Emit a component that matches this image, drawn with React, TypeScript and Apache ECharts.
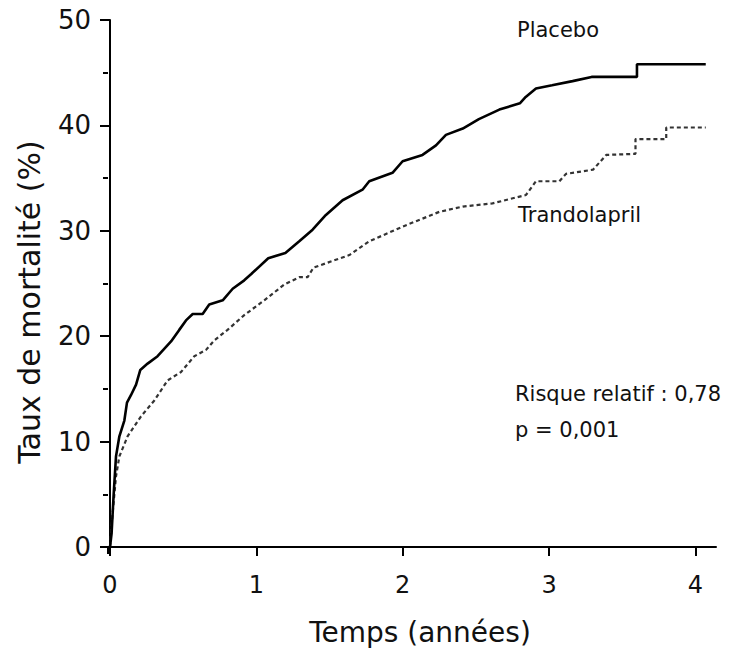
import React, { useEffect, useRef } from "react";
import * as echarts from "echarts";

const xTicks = [0, 1, 2, 3, 4];
const yTicks = [0, 10, 20, 30, 40, 50];

const placeboT = [0, 0.011, 0.025, 0.041, 0.064, 0.098, 0.116, 0.143, 0.178, 0.207, 0.257, 0.325, 0.417, 0.473, 0.519, 0.565, 0.633, 0.678, 0.77, 0.838, 0.917, 0.965, 1.081, 1.198, 1.293, 1.384, 1.475, 1.589, 1.725, 1.771, 1.93, 1.999, 2.135, 2.227, 2.295, 2.41, 2.52, 2.66, 2.8, 2.84, 2.91, 3.02, 3.16, 3.29, 3.6, 3.6, 4.07];
const placeboV = [0, 1.3, 5, 8.6, 10.5, 12.0, 13.7, 14.4, 15.4, 16.8, 17.4, 18.1, 19.5, 20.6, 21.5, 22.1, 22.1, 23.0, 23.4, 24.5, 25.3, 25.9, 27.4, 27.9, 29.0, 30.1, 31.5, 32.9, 33.9, 34.7, 35.5, 36.6, 37.2, 38.1, 39.1, 39.7, 40.6, 41.5, 42.1, 42.7, 43.5, 43.8, 44.2, 44.6, 44.6, 45.8, 45.8];

const trandoT = [0, 0.018, 0.041, 0.064, 0.12, 0.212, 0.303, 0.393, 0.485, 0.576, 0.656, 0.712, 0.803, 0.917, 1.054, 1.19, 1.293, 1.35, 1.39, 1.635, 1.771, 2.0, 2.25, 2.41, 2.613, 2.842, 2.91, 3.07, 3.115, 3.3, 3.39, 3.59, 3.59, 3.8, 3.8, 4.07];
const trandoV = [0, 3.2, 6.7, 8.6, 10.5, 12.4, 13.9, 15.8, 16.6, 18.1, 18.7, 19.6, 20.6, 22.0, 23.4, 24.9, 25.6, 25.6, 26.5, 27.7, 29.0, 30.4, 31.8, 32.3, 32.6, 33.4, 34.7, 34.7, 35.4, 35.8, 37.2, 37.3, 38.7, 38.7, 39.8, 39.8];

const seriesNames = ["Placebo", "Trandolapril"];
const annotations = ["Risque relatif : 0,78", "p = 0,001"];
const xTitle = "Temps (années)";
const yTitle = "Taux de mortalité (%)";

const FONT = "DejaVu Sans";

export default function App() {
  const ref = useRef<HTMLDivElement>(null);
  useEffect(() => {
    if (!ref.current) return;
    const chart = echarts.init(ref.current, null, { renderer: "svg" });
    const placebo = placeboT.map((t, i) => [t, placeboV[i]]);
    const trando = trandoT.map((t, i) => [t, trandoV[i]]);
    const txt = (text: string, x: number, y: number, size: number, extra: any = {}) => ({
      type: "text",
      x,
      y,
      style: {
        text,
        fontSize: size,
        fontFamily: FONT,
        fill: "#111",
        textAlign: "left",
        textVerticalAlign: "middle",
        ...extra,
      },
    });
    chart.setOption({
      animation: false,
      backgroundColor: "#fff",
      grid: { left: 110, right: 15, top: 20, bottom: 106 },
      xAxis: {
        type: "value",
        min: 0,
        max: 4.14,
        interval: 1,
        offset: 6,
        axisLine: { show: true, lineStyle: { color: "#000", width: 2 } },
        axisTick: { show: true, length: 9, lineStyle: { color: "#000", width: 2 }, customValues: xTicks },
        axisLabel: { customValues: xTicks, fontSize: 24, color: "#111", fontFamily: FONT, margin: 20 },
        splitLine: { show: false },
      },
      yAxis: [
        {
          type: "value",
          min: 0,
          max: 50,
          interval: 10,
          offset: 2,
          axisLine: { show: true, lineStyle: { color: "#000", width: 2 } },
          axisTick: { show: true, length: 10, lineStyle: { color: "#000", width: 2 } },
          axisLabel: {
            fontSize: 26,
            color: "#111",
            fontFamily: FONT,
            margin: 17,
            formatter: (v: number) => (yTicks.includes(v) ? String(v) : ""),
          },
          splitLine: { show: false },
        },
        {
          type: "value",
          position: "left",
          min: 0,
          max: 50,
          interval: 5,
          offset: 2,
          axisLine: { show: false },
          axisTick: { show: true, length: 5, lineStyle: { color: "#000", width: 2 } },
          axisLabel: { show: false },
          splitLine: { show: false },
        },
      ],
      series: [
        {
          name: seriesNames[0],
          type: "line",
          yAxisIndex: 0,
          data: placebo,
          symbol: "none",
          lineStyle: { color: "#000", width: 2.6 },
          z: 3,
        },
        {
          name: seriesNames[1],
          type: "line",
          yAxisIndex: 0,
          data: trando,
          symbol: "none",
          lineStyle: { color: "#333", width: 2.2, type: [4, 3] },
          z: 2,
        },
      ],
      graphic: [
        { type: "line", shape: { x1: 108, y1: 546, x2: 108, y2: 554 }, style: { stroke: "#000", lineWidth: 2 } },
        { type: "line", shape: { x1: 107, y1: 553, x2: 111, y2: 553 }, style: { stroke: "#000", lineWidth: 2 } },
        txt(seriesNames[0], 517, 30, 21),
        txt(seriesNames[1], 518, 215, 21),
        txt(annotations[0], 515, 394, 21),
        txt(annotations[1], 515, 430, 21),
        txt(xTitle, 420, 632, 28, { textAlign: "center" }),
        {
          type: "text",
          x: 29,
          y: 302,
          rotation: Math.PI / 2,
          style: {
            text: yTitle,
            fontSize: 30,
            fontFamily: FONT,
            fill: "#111",
            textAlign: "center",
            textVerticalAlign: "middle",
          },
        },
      ],
    });
    return () => chart.dispose();
  }, []);
  return (
    <div
      ref={ref}
      style={{ position: "absolute", left: 0, top: 0, width: 731, height: 653, background: "#fff" }}
    />
  );
}
